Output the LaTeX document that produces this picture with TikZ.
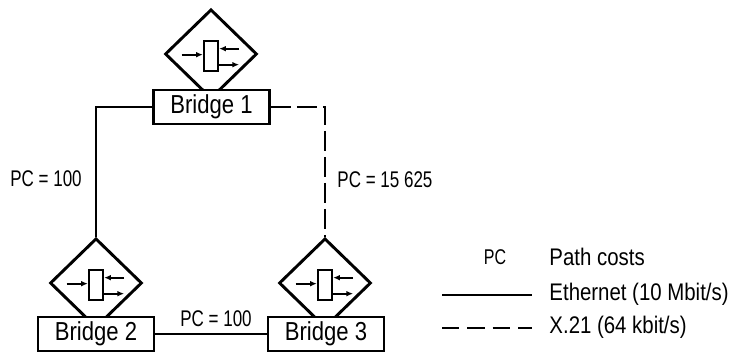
\documentclass[tikz,border=0pt]{standalone}
\usepackage{fontspec}
\setmainfont[FakeStretch=0.85]{Liberation Sans}
\newfontfamily\pcfont[FakeStretch=0.75]{Liberation Sans}
\usepackage{tikz}
\usetikzlibrary{arrows,arrows.meta,shapes.geometric,positioning}
\tikzset{
  every picture/.style = {
    line width = 2.2pt,
    >={Latex[length=5pt,width=4.2pt]},
    x = 0.75pt,
    y = -0.75pt,
  }
  ,
  bridge-box/.style = {
    rectangle,
    draw,
    fill = white,
    font = \fontsize{19.5}{21}\selectfont,
    minimum width = 87pt,
    minimum height = 25.5pt,
    inner sep = 0pt
  }
  , % the relay symbol above a bridge
  bridge-relay/.style = {
    diamond,
    draw,
    minimum width = 69pt,
    minimum height = 67pt,
    inner sep = 0pt
  }
  ,
  relay-coil/.style = {
    rectangle,
    draw,
    line width = 1.7pt,
    minimum width = 10.5pt,
    minimum height = 22pt,
    inner sep = 0pt
  }
  , % labels of links
  label-pc/.style = {
    font = \pcfont\fontsize{17}{19}\selectfont,
    inner sep = 0pt
  }
  , % legend texts
  label-legend/.style = {
    font = \fontsize{18}{20}\selectfont,
    inner sep = 0pt,
    anchor = west
  }
  ,
  x21/.style = {
    dash pattern = on 15pt off 4.5pt
  }
}
\begin{document}
\begin{tikzpicture}
\useasboundingbox (0,0) rectangle (748,352);
% relays first, boxes cover their lower tips
\node[bridge-relay] (r1) at (211,54) {};
\node[bridge-relay] (r2) at (96,283) {};
\node[bridge-relay] (r3) at (325,283) {};
\node[bridge-box] (b1) at (211.5,107) {Bridge 1};
\node[bridge-box] (b2) at (96,334) {Bridge 2};
\node[bridge-box] (b3) at (326,334) {Bridge 3};
\foreach \r in {r1,r2,r3} {
  \node[relay-coil, yshift=-1.5pt] (\r c) at (\r) {};
  \draw[->, line width=1.6pt] ([xshift=-16pt,yshift=1pt]\r c.west) -- ([yshift=1pt]\r c.west);
  \draw[->, line width=1.6pt] ([xshift=15pt,yshift=5.5pt]\r c.east) -- ([yshift=5.5pt]\r c.east);
  \draw[->, line width=1.6pt] ([yshift=-6.5pt]\r c.east) -- ([xshift=15pt,yshift=-6.5pt]\r c.east);
}
% links
\draw (b1.west) -| (r2.north);
\draw[x21] (b1.east) -| (r3.north);
\draw (b2.east) -- (b3.west);
\node[label-pc] (pc12) at (46,179) {PC = 100};
\node[label-pc, anchor=west] (pc13) at (336,180) {PC = 15 625};
\node[label-pc] (pc23) at (216,319) {PC = 100};
% legend
\node[font=\pcfont\fontsize{16}{18}\selectfont, inner sep=0pt] (lpc) at (495,257) {PC};
\node[label-legend] (lpath) at (548,257) {Path costs};
\coordinate (eth-a) at (442,295);
\coordinate (eth-b) at (532,295);
\draw (eth-a) -- (eth-b);
\node[label-legend] (leth) at (548,294) {Ethernet (10 Mbit/s)};
\coordinate (x21-a) at (442,328);
\coordinate (x21-b) at (532,328);
\draw[dash pattern=on 13pt off 6pt] (x21-a) -- (x21-b);
\node[label-legend] (lx21) at (548,327) {X.21 (64 kbit/s)};
\end{tikzpicture}
\end{document}
